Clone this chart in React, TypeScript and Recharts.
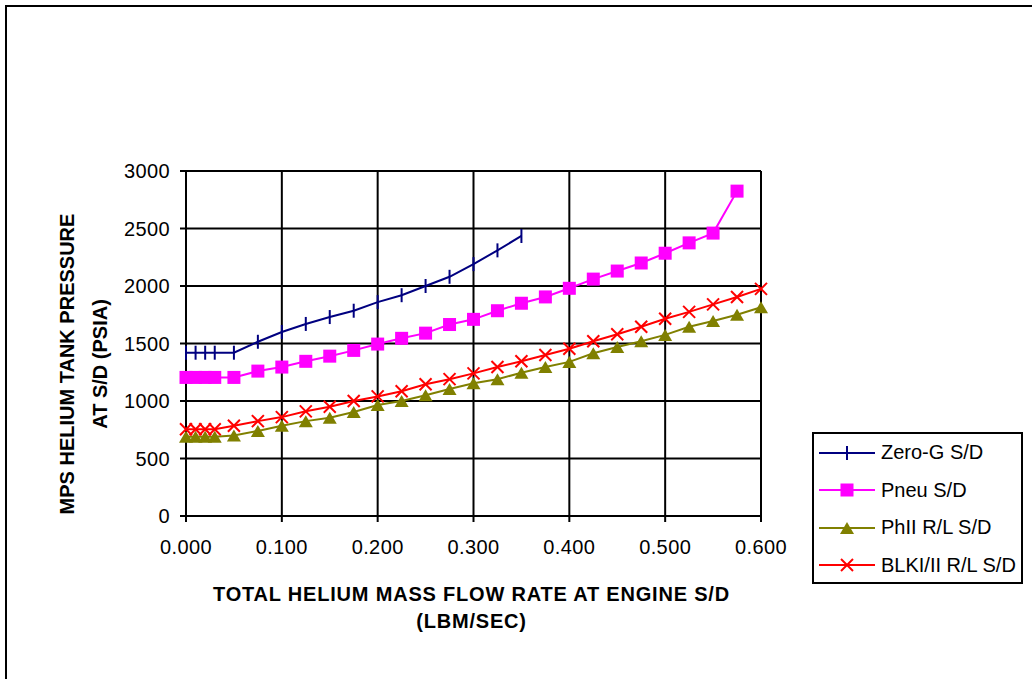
import React from 'react';
import { LineChart, Line, XAxis, YAxis, CartesianGrid, Legend, Label } from 'recharts';

const FONT = '"Liberation Sans", Arial, sans-serif';

// flow rate (lbm/sec)
const flowRates = [0, 0.01, 0.02, 0.03, 0.05, 0.075, 0.1, 0.125, 0.15, 0.175, 0.2, 0.225, 0.25, 0.275, 0.3,
  0.325, 0.35, 0.375, 0.4, 0.425, 0.45, 0.475, 0.5, 0.525, 0.55, 0.575, 0.6];

// tank pressure (psia) per series
const zeroG = [1420, 1420, 1420, 1420, 1420, 1515, 1600, 1670, 1730, 1785, 1860, 1920, 2000, 2080, 2190, 2310, 2435];
const pneu = [1205, 1205, 1205, 1205, 1205, 1260, 1295, 1345, 1390, 1440, 1495, 1545, 1590, 1665, 1710, 1785, 1850,
  1905, 1980, 2060, 2130, 2200, 2285, 2375, 2460, 2825];
const phII = [690, 690, 690, 690, 700, 740, 785, 825, 855, 905, 965, 1000, 1050, 1105, 1155, 1190, 1245, 1295, 1340,
  1415, 1470, 1520, 1575, 1645, 1695, 1750, 1815];
const blk = [755, 755, 755, 755, 785, 825, 860, 910, 950, 1000, 1040, 1085, 1145, 1190, 1240, 1295, 1345, 1400, 1455,
  1520, 1580, 1645, 1715, 1775, 1840, 1905, 1975];

const xTicks = [0, 0.1, 0.2, 0.3, 0.4, 0.5, 0.6];
const yTicks = [0, 500, 1000, 1500, 2000, 2500, 3000];

const seriesKeys = ['zeroG', 'pneu', 'phII', 'blk'];
const seriesNames: Record<string, string> = {
  zeroG: 'Zero-G S/D',
  pneu: 'Pneu S/D',
  phII: 'PhII R/L S/D',
  blk: 'BLKI/II R/L S/D',
};

const colors: Record<string, string> = {
  zeroG: '#000080',
  pneu: '#FF00FF',
  phII: '#808000',
  blk: '#FF0000',
};

const rows = flowRates.map((x, i) => ({
  x,
  zeroG: zeroG[i] ?? null,
  pneu: pneu[i] ?? null,
  phII: phII[i] ?? null,
  blk: blk[i] ?? null,
}));

const Marker = ({ kind, cx, cy }: { kind: string; cx: number; cy: number }) => {
  const c = colors[kind];
  if (kind === 'zeroG') {
    return <line x1={cx} y1={cy - 7} x2={cx} y2={cy + 7} stroke={c} strokeWidth={2} />;
  }
  if (kind === 'pneu') {
    return <rect x={cx - 6.5} y={cy - 6.5} width={13} height={13} fill={c} />;
  }
  if (kind === 'phII') {
    return <polygon points={`${cx},${cy - 6} ${cx - 7},${cy + 6} ${cx + 7},${cy + 6}`} fill={c} />;
  }
  return (
    <g stroke={c} strokeWidth={2}>
      <line x1={cx - 6} y1={cy - 6} x2={cx + 6} y2={cy + 6} />
      <line x1={cx - 6} y1={cy + 6} x2={cx + 6} y2={cy - 6} />
    </g>
  );
};

const makeDot = (kind: string) => (props: any) => {
  const { cx, cy, index } = props;
  if (cy == null || cx == null || isNaN(cy)) return <g key={`${kind}-${index}`} />;
  return (
    <g key={`${kind}-${index}`}>
      <Marker kind={kind} cx={cx} cy={cy} />
    </g>
  );
};

const LegendBox = (props: any) => {
  const items = [...(props.payload || [])].sort(
    (a: any, b: any) => seriesKeys.indexOf(a.dataKey) - seriesKeys.indexOf(b.dataKey)
  );
  return (
    <div
      style={{
        width: 211,
        height: 152,
        border: '2px solid #000',
        boxSizing: 'border-box',
        background: '#fff',
        fontFamily: FONT,
        fontSize: 20,
        whiteSpace: 'nowrap',
        overflow: 'hidden',
      }}
    >
      {items.map((p: any) => (
        <div key={p.dataKey} style={{ display: 'flex', alignItems: 'center', height: 37.5 }}>
          <svg width={56} height={30} style={{ marginLeft: 5, flex: 'none' }}>
            <line x1={0} y1={15} x2={56} y2={15} stroke={colors[p.dataKey]} strokeWidth={2} />
            <Marker kind={p.dataKey} cx={28} cy={15} />
          </svg>
          <span style={{ marginLeft: 6, color: '#000' }}>{p.value}</span>
        </div>
      ))}
    </div>
  );
};

const XTitle = (props: any) => {
  const { viewBox } = props;
  const cx = viewBox.x + viewBox.width / 2 - 2;
  return (
    <g fontFamily={FONT} fontSize={20} fontWeight="bold" fill="#000" textAnchor="middle" letterSpacing={0.8}>
      <text x={cx} y={601} fill="#000">TOTAL HELIUM MASS FLOW RATE AT ENGINE S/D</text>
      <text x={cx} y={628} fill="#000">(LBM/SEC)</text>
    </g>
  );
};

const YTitle = () => {
  const cy = 364;
  return (
    <g fontFamily={FONT} fontSize={20} fontWeight="bold" fill="#000" textAnchor="middle">
      <text x={74} y={cy} transform={`rotate(-90 74 ${cy})`} fill="#000">MPS HELIUM TANK PRESSURE</text>
      <text x={107} y={cy} transform={`rotate(-90 107 ${cy})`} fill="#000">AT S/D (PSIA)</text>
    </g>
  );
};

export default function App() {
  const tickStyle = { fill: '#000', fontSize: 20, fontFamily: FONT, letterSpacing: 0.4 };
  return (
    <div
      style={{
        position: 'absolute',
        left: 0,
        top: 0,
        width: 1032,
        height: 679,
        overflow: 'hidden',
        background: '#fff',
      }}
    >
      <div
        style={{
          position: 'absolute',
          left: 5,
          top: 5,
          width: 1040,
          height: 690,
          borderLeft: '2px solid #000',
          borderTop: '2px solid #000',
        }}
      />
      <div style={{ position: 'absolute', left: 0, top: 0 }}>
        <LineChart width={1032} height={679} data={rows} margin={{ top: 171, right: 271, bottom: 133, left: 126 }}>
          <CartesianGrid stroke="#000" strokeWidth={2} horizontalValues={yTicks} verticalValues={xTicks} />
          <XAxis
            dataKey="x"
            type="number"
            domain={[0, 0.6]}
            ticks={xTicks}
            tickFormatter={(v: number) => v.toFixed(3)}
            tick={tickStyle}
            tickSize={6}
            tickMargin={18}
            height={30}
            tickLine={{ stroke: '#000', strokeWidth: 2 }}
            axisLine={{ stroke: '#000', strokeWidth: 2 }}
          >
            <Label content={<XTitle />} />
          </XAxis>
          <YAxis
            type="number"
            domain={[0, 3000]}
            ticks={yTicks}
            tick={tickStyle}
            tickSize={6}
            tickMargin={10}
            width={60}
            tickLine={{ stroke: '#000', strokeWidth: 2 }}
            axisLine={{ stroke: '#000', strokeWidth: 2 }}
          >
            <Label content={<YTitle />} />
          </YAxis>
          <Legend
            layout="vertical"
            align="center"
            verticalAlign="middle"
            content={<LegendBox />}
            wrapperStyle={{ left: 812, top: 432, width: 211, height: 152 }}
          />
          {seriesKeys.map((k) => (
            <Line
              key={k}
              dataKey={k}
              name={seriesNames[k]}
              type="linear"
              stroke={colors[k]}
              strokeWidth={2}
              dot={makeDot(k)}
              activeDot={false}
              isAnimationActive={false}
              legendType="line"
            />
          ))}
        </LineChart>
      </div>
    </div>
  );
}
